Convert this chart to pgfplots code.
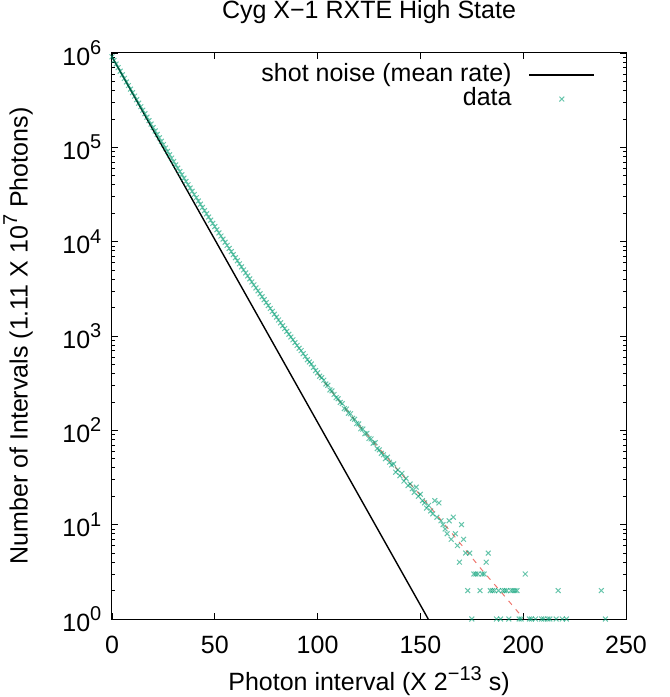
\documentclass[border=0pt]{standalone}
\usepackage{fontspec}
\setmainfont{Liberation Sans}
\usepackage{pgfplots}
\pgfplotsset{compat=1.18}
\definecolor{gpgreen}{RGB}{0,158,115}
\definecolor{gpred}{RGB}{229,30,16}
\newcommand{\sups}[1]{\raisebox{0.42em}{\fontsize{10}{12}\selectfont #1}}
\newcommand{\lab}{\fontsize{12.5}{15}\selectfont}
\pgfplotsset{
    lineleg/.style={legend image code/.code={\draw[##1] (0pt,0pt) -- (32.5pt,0pt);}},
    markleg/.style={legend image code/.code={\path[draw=none,fill=none] (0pt,0pt) -- (32.5pt,0pt);
        \path[##1, draw=none] plot coordinates {(16.25pt,0pt)};}},
}

\begin{document}
\begin{tikzpicture}
\useasboundingbox (-56pt,-39pt) rectangle (279pt,309.5pt);
\begin{axis}[
    at={(0,0)}, anchor=south west,
    scale only axis, width=257pt, height=283pt,
    xmin=0, xmax=250, ymin=1, ymax=1e6, ymode=log,
    clip=false,
    axis line style={line width=0.5pt},
    tick pos=both, tick align=inside,
    major tick length=3pt, minor tick length=1.6pt,
    tick style={line width=0.4pt, black},
    xtick={0,50,100,150,200,250},
    xticklabels={0,50,100,150,200,250},
    ytick={1,10,100,1000,10000,100000,1000000},
    yticklabels={10\sups{0},10\sups{1},10\sups{2},10\sups{3},10\sups{4},10\sups{5},10\sups{6}},
    xticklabel style={font=\lab, anchor=base, yshift=-17pt},
    yticklabel style={font=\lab, anchor=east, xshift=-1.8pt},
    title={Cyg X−1 RXTE High State},
    title style={at={(0.5,1.0406)}, anchor=base, font=\lab},
    xlabel={Photon interval (X 2\sups{−13} s)},
    xlabel style={at={(0.5,-0.1272)}, anchor=base, font=\lab},
    ylabel={Number of Intervals (1.11 X 10\sups{7} Photons)},
    ylabel style={at={(-0.1829,0.5)}, anchor=center, font=\lab},
    legend style={at={(0.9397,0.9823)}, anchor=north east, draw=none, fill=none,
        inner sep=0pt, outer sep=0pt, font=\lab, row sep=0pt, column sep=8.5pt,
        nodes={inner sep=0pt, text height=9pt, text depth=3pt}},
    legend cell align=right,
    legend plot pos=right,
]

% shot noise at the mean rate
\addplot[black, line width=0.7pt, lineleg]
    coordinates {(0,912000) (153.8,1)};
\addlegendentry{shot noise (mean rate)}

% measured interval histogram
\addplot[only marks, mark=x, mark size=1.7pt,
    mark options={draw=gpgreen, draw opacity=0.6, line width=0.5pt}, markleg]
    table {
x y
0 912000
1 835000
2 764200
3 699800
4 640900
5 587000
6 538100
7 493200
8 452200
9 414600
10 380200
11 348800
12 320100
13 293700
14 269700
15 247600
16 227400
17 208900
18 192000
19 176500
20 162200
21 149100
22 137200
23 126200
24 116100
25 106900
26 98360
27 90570
28 83410
29 76840
30 70790
31 65250
32 60160
33 55470
34 51160
35 47190
36 43540
37 40180
38 37090
39 34240
40 31620
41 29220
42 26990
43 24950
44 23060
45 21320
46 19720
47 18240
48 16880
49 15620
50 14450
51 13380
52 12390
53 11480
54 10640
55 9857
56 9138
57 8472
58 7857
59 7289
60 6761
61 6276
62 5825
63 5407
64 5021
65 4664
66 4333
67 4027
68 3743
69 3480
70 3236
71 3010
72 2801
73 2607
74 2426
75 2258
76 2103
77 1958
78 1825
79 1701
80 1585
81 1478
82 1378
83 1285
84 1199
85 1119
86 1044
87 975
88 910
89 850
90 794
91 742
92 700
93 649
94 607
95 560
96 531
97 505
98 465
99 430
100 407
101 375
102 362
103 340
104 310
105 300
106 268
107 262
108 240
109 222
110 216
111 198
112 192
113 170
114 168
115 152
116 150
117 134
118 131
119 118
120 117
121 104
122 103
123 92
124 93
125 82
126 81
127 73
128 74
129 64
130 62
131 57
132 55
133 50
134 52
135 46
136 43
137 44
138 36
139 38
140 33
141 35
142 29
143 31
144 26
145 27
146 24
147 22
148 25
149 20
150 21
151 18
152 17
153 15
154 16
155 14
156 13
157 18
158 12
159 17
160 11
161 10
162 9
163 8
164 11
165 7
166 12
167 8
168 6
169 4
170 10
171 7
172 5
173 2
174 5
175 1
176 3
177 3
178 3
179 2
180 3
181 3
182 4
183 5
184 2
185 2
186 2
187 1
188 2
189 1
190 2
191 2
192 2
193 1
194 2
195 2
196 2
197 2
198 1
199 1
201 3
203 1
204 1
206 1
209 1
210 1
212 1
213 1
216 1
217 2
219 1
221 1
238 2
240 1
};
\addlegendentry{data}

% fitted tail
\addplot[gpred, draw opacity=0.6, line width=0.5pt, dash pattern=on 2.5pt off 3pt, forget plot]
    coordinates {(100,400) (110,212) (120,114) (130,64) (140,36) (150,20.5)
                 (160,11.2) (170,6.1) (180,3.3) (190,1.85) (200,1.02)};

\end{axis}
\end{tikzpicture}
\end{document}
